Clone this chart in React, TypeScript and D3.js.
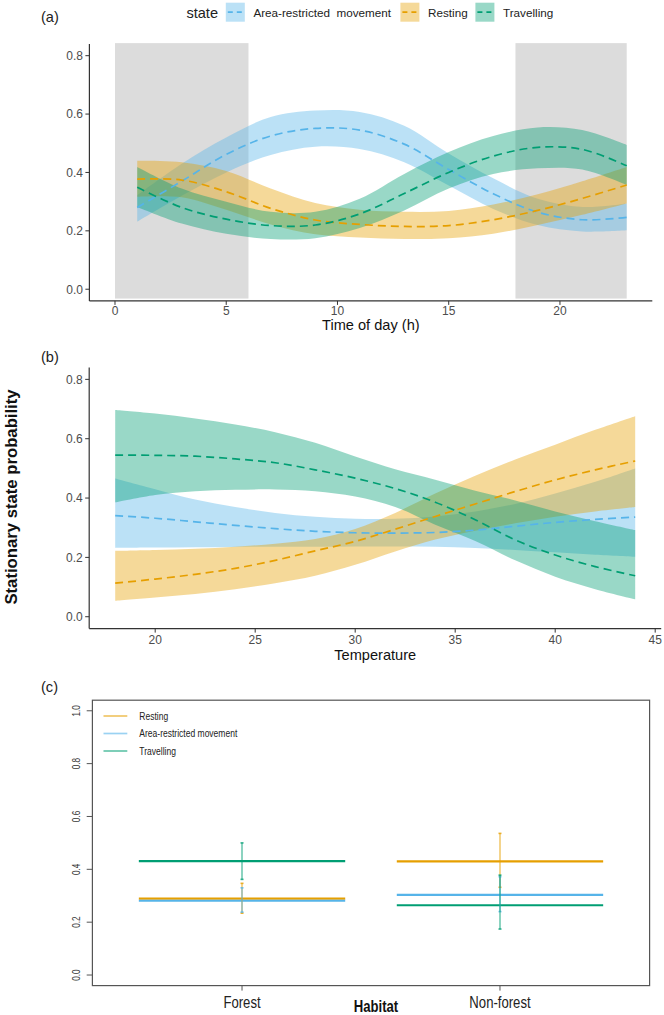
import * as d3 from 'd3';
import * as React from 'react';

const FONT = "'Liberation Sans', Arial, sans-serif";

const ARM = '#56B4E9';
const REST = '#E69F00';
const TRAV = '#009E73';

// (a) time of day
const hours = [1, 3, 5, 7, 9, 11, 13, 15, 17, 19, 21, 23];
const armDayMean = [0.28, 0.37, 0.462, 0.525, 0.551, 0.545, 0.497, 0.41, 0.327, 0.264, 0.238, 0.246];
const armDayLow = [0.231, 0.32, 0.4, 0.46, 0.488, 0.48, 0.435, 0.355, 0.275, 0.22, 0.198, 0.202];
const armDayHigh = [0.322, 0.43, 0.52, 0.59, 0.612, 0.607, 0.56, 0.465, 0.38, 0.31, 0.282, 0.294];
const restDayMean = [0.377, 0.374, 0.334, 0.277, 0.237, 0.222, 0.215, 0.218, 0.238, 0.27, 0.311, 0.357];
const restDayLow = [0.317, 0.315, 0.272, 0.222, 0.188, 0.177, 0.172, 0.175, 0.19, 0.22, 0.255, 0.294];
const restDayHigh = [0.44, 0.435, 0.405, 0.345, 0.295, 0.272, 0.265, 0.268, 0.29, 0.325, 0.37, 0.419];
const travDayMean = [0.349, 0.28, 0.24, 0.218, 0.22, 0.258, 0.328, 0.4, 0.456, 0.486, 0.479, 0.423];
const travDayLow = [0.282, 0.225, 0.19, 0.172, 0.175, 0.21, 0.27, 0.345, 0.395, 0.414, 0.41, 0.357];
const travDayHigh = [0.419, 0.345, 0.3, 0.265, 0.265, 0.31, 0.395, 0.47, 0.525, 0.554, 0.545, 0.494];
const nightStart = [0, 18];
const nightEnd = [6, 23];
const hourTicks = [0, 5, 10, 15, 20];

// (b) temperature
const temps = [18, 20, 22, 24, 26, 28, 30, 32, 34, 36, 38, 40, 42, 44];
const armTempMean = [0.341, 0.332, 0.32, 0.308, 0.297, 0.288, 0.283, 0.282, 0.284, 0.292, 0.305, 0.318, 0.328, 0.336];
const armTempLow = [0.232, 0.233, 0.234, 0.235, 0.236, 0.236, 0.237, 0.237, 0.236, 0.232, 0.225, 0.217, 0.209, 0.202];
const armTempHigh = [0.466, 0.43, 0.395, 0.37, 0.35, 0.337, 0.33, 0.33, 0.338, 0.355, 0.38, 0.415, 0.455, 0.5];
const restTempMean = [0.113, 0.127, 0.143, 0.163, 0.19, 0.222, 0.254, 0.295, 0.338, 0.38, 0.422, 0.461, 0.495, 0.525];
const restTempLow = [0.054, 0.065, 0.077, 0.093, 0.113, 0.138, 0.175, 0.22, 0.26, 0.29, 0.315, 0.337, 0.355, 0.37];
const restTempHigh = [0.222, 0.225, 0.229, 0.236, 0.246, 0.262, 0.296, 0.35, 0.415, 0.475, 0.53, 0.58, 0.63, 0.676];
const travTempMean = [0.545, 0.544, 0.541, 0.532, 0.519, 0.495, 0.467, 0.432, 0.386, 0.327, 0.259, 0.208, 0.169, 0.138];
const travTempLow = [0.385, 0.41, 0.423, 0.428, 0.429, 0.423, 0.405, 0.37, 0.31, 0.255, 0.19, 0.135, 0.093, 0.059];
const travTempHigh = [0.697, 0.685, 0.668, 0.648, 0.622, 0.586, 0.54, 0.497, 0.462, 0.425, 0.392, 0.355, 0.322, 0.292];
const tempTicks = [20, 25, 30, 35, 40, 45];

// (c) habitat
const habitats = ['Forest', 'Non-forest'];
const restHab = [0.289, 0.43];
const restHabLow = [0.234, 0.332];
const restHabHigh = [0.347, 0.536];
const armHab = [0.281, 0.303];
const armHabLow = [0.238, 0.24];
const armHabHigh = [0.33, 0.372];
const travHab = [0.431, 0.264];
const travHabLow = [0.362, 0.174];
const travHabHigh = [0.5, 0.378];

const probTicks = [0, 0.2, 0.4, 0.6, 0.8];
const probTicksC = [0, 0.2, 0.4, 0.6, 0.8, 1.0];

const legendA = [
  { label: 'Area-restricted  movement', color: ARM },
  { label: 'Resting', color: REST },
  { label: 'Travelling', color: TRAV },
];

// base-R panel uses a condensed face; squeeze Liberation Sans horizontally
const NText = ({ x, y, size, anchor = 'start', weight = 'normal', fill = '#222', rotate = 0, children }) => (
  <text
    transform={`translate(${x},${y}) rotate(${rotate}) scale(0.82,1)`}
    textAnchor={anchor}
    fontSize={size}
    fontWeight={weight}
    fill={fill}
    fontFamily={FONT}
  >
    {children}
  </text>
);

const RibbonPanel = ({ xScale, yScale, xs, series, xTicks, title, titleY, tickY, nights }) => {
  const [x0, x1] = xScale.range();
  const [yb, yt] = yScale.range();
  const fmt = d3.format('.1f');
  const area = d3
    .area()
    .x((d) => xScale(d.x))
    .y0((d) => yScale(d.lo))
    .y1((d) => yScale(d.hi))
    .curve(d3.curveCatmullRom);
  const line = d3
    .line()
    .x((d) => xScale(d.x))
    .y((d) => yScale(d.m))
    .curve(d3.curveCatmullRom);
  const rows = series.map((s) => xs.map((x, i) => ({ x, m: s.mean[i], lo: s.lo[i], hi: s.hi[i] })));
  return (
    <g>
      {nights &&
        nights.start.map((s, i) => (
          <rect
            key={i}
            x={xScale(s)}
            y={yScale(0.843)}
            width={xScale(nights.end[i]) - xScale(s)}
            height={yScale(-0.032) - yScale(0.843)}
            fill="#dcdcdc"
          />
        ))}
      {series.map((s, i) => (
        <path key={'r' + i} d={area(rows[i])} fill={s.color} fillOpacity={0.4} />
      ))}
      {series.map((s, i) => (
        <path key={'l' + i} d={line(rows[i])} fill="none" stroke={s.color} strokeWidth={1.7} strokeDasharray="8 5" />
      ))}
      <line x1={x0} x2={x0} y1={yt} y2={yb} stroke="#333" strokeWidth={1.2} />
      <line x1={x0} x2={x1} y1={yb} y2={yb} stroke="#333" strokeWidth={1.2} />
      {probTicks.map((t) => (
        <g key={'y' + t}>
          <line x1={x0 - 4} x2={x0} y1={yScale(t)} y2={yScale(t)} stroke="#333" strokeWidth={1} />
          <text x={x0 - 6.5} y={yScale(t) + 4.3} textAnchor="end" fontSize={12} fill="#4d4d4d" fontFamily={FONT}>
            {fmt(t)}
          </text>
        </g>
      ))}
      {xTicks.map((t) => (
        <g key={'x' + t}>
          <line x1={xScale(t)} x2={xScale(t)} y1={yb} y2={yb + 4} stroke="#333" strokeWidth={1} />
          <text x={xScale(t)} y={tickY} textAnchor="middle" fontSize={12} fill="#4d4d4d" fontFamily={FONT}>
            {t}
          </text>
        </g>
      ))}
      <text x={(x0 + x1) / 2} y={titleY} textAnchor="middle" fontSize={14.6} fill="#111" fontFamily={FONT}>
        {title}
      </text>
    </g>
  );
};

const App = () => {
  const xA = d3.scaleLinear().domain([-1.15, 24.15]).range([89.4, 652.3]);
  const yA = d3.scaleLinear().domain([-0.04, 0.84]).range([300.9, 44]);
  const xB = d3.scaleLinear().domain([16.7, 45.3]).range([89.2, 661.2]);
  const yB = d3.scaleLinear().domain([-0.04, 0.84]).range([628.6, 367.5]);
  const xC = d3.scaleLinear().domain([0.42, 2.58]).range([92.4, 649.6]);
  const yC = d3.scaleLinear().domain([-0.04, 1.04]).range([985.6, 700.2]);

  const daySeries = [
    { color: ARM, mean: armDayMean, lo: armDayLow, hi: armDayHigh },
    { color: REST, mean: restDayMean, lo: restDayLow, hi: restDayHigh },
    { color: TRAV, mean: travDayMean, lo: travDayLow, hi: travDayHigh },
  ];
  const tempSeries = [
    { color: ARM, mean: armTempMean, lo: armTempLow, hi: armTempHigh },
    { color: REST, mean: restTempMean, lo: restTempLow, hi: restTempHigh },
    { color: TRAV, mean: travTempMean, lo: travTempLow, hi: travTempHigh },
  ];
  const habSeries = [
    { label: 'Resting', color: REST, v: restHab, lo: restHabLow, hi: restHabHigh },
    { label: 'Area-restricted movement', color: ARM, v: armHab, lo: armHabLow, hi: armHabHigh },
    { label: 'Travelling', color: TRAV, v: travHab, lo: travHabLow, hi: travHabHigh },
  ];

  // legend key positions for (a)
  const keyX = [225.8, 400.4, 475.4];

  const [cx0, cx1] = xC.range();
  const [cyb, cyt] = yC.range();
  const fmt = d3.format('.1f');

  return (
    <svg
      width={664}
      height={1015}
      style={{ position: 'absolute', left: 0, top: 0, background: '#fff' }}
      fontFamily={FONT}
    >
      <rect x={0} y={0} width={664} height={1015} fill="#fff" />

      {/* (a) */}
      <text x={41} y={21.5} fontSize={14.6} fill="#222">(a)</text>
      <text x={186.4} y={18} fontSize={14.6} fill="#222">state</text>
      {legendA.map((d, i) => (
        <g key={d.label}>
          <rect x={keyX[i]} y={2.7} width={19} height={19} fill={d.color} fillOpacity={0.4} />
          <line
            x1={keyX[i]}
            x2={keyX[i] + 19}
            y1={12.2}
            y2={12.2}
            stroke={d.color}
            strokeWidth={1.7}
            strokeDasharray="5 4"
            strokeDashoffset={-2}
          />
          <text x={keyX[i] + 27.6} y={16.6} fontSize={11.7} fill="#222" style={{ whiteSpace: 'pre' }}>
            {d.label}
          </text>
        </g>
      ))}
      <RibbonPanel
        xScale={xA}
        yScale={yA}
        xs={hours}
        series={daySeries}
        xTicks={hourTicks}
        title="Time of day (h)"
        titleY={330}
        tickY={315.2}
        nights={{ start: nightStart, end: nightEnd }}
      />

      {/* (b) */}
      <text x={41} y={362} fontSize={14.6} fill="#222">(b)</text>
      <RibbonPanel
        xScale={xB}
        yScale={yB}
        xs={temps}
        series={tempSeries}
        xTicks={tempTicks}
        title="Temperature"
        titleY={660}
        tickY={644}
        nights={null}
      />
      <text
        transform="translate(17,497) rotate(-90)"
        textAnchor="middle"
        fontSize={16.7}
        fontWeight="bold"
        fill="#111"
      >
        Stationary state probability
      </text>

      {/* (c) */}
      <text x={41} y={692} fontSize={14.6} fill="#222">(c)</text>
      <rect x={cx0} y={cyt} width={cx1 - cx0} height={cyb - cyt} fill="none" stroke="#555" strokeWidth={1.2} />
      {probTicksC.map((t) => (
        <g key={'cy' + t}>
          <line x1={cx0 - 5.7} x2={cx0} y1={yC(t)} y2={yC(t)} stroke="#555" strokeWidth={1} />
          <NText x={cx0 - 12} y={yC(t)} size={10} anchor="middle" rotate={-90} fill="#333">
            {fmt(t)}
          </NText>
        </g>
      ))}
      {habitats.map((h, i) => (
        <g key={h}>
          <line x1={xC(i + 1)} x2={xC(i + 1)} y1={cyb} y2={cyb + 5} stroke="#555" strokeWidth={1} />
          <NText x={xC(i + 1)} y={1008} size={16} anchor="middle">
            {h}
          </NText>
        </g>
      ))}
      <NText x={376} y={1012} size={16} anchor="middle" weight="bold" fill="#111">
        Habitat
      </NText>
      {habSeries.map((s) =>
        habitats.map((h, i) => (
          <line
            key={s.label + h + 'seg'}
            x1={xC(i + 1 - 0.4)}
            x2={xC(i + 1 + 0.4)}
            y1={yC(s.v[i])}
            y2={yC(s.v[i])}
            stroke={s.color}
            strokeWidth={2.2}
          />
        ))
      )}
      {habSeries.map((s) =>
        habitats.map((h, i) => (
          <g key={s.label + h + 'err'}>
            <line
              x1={xC(i + 1)}
              x2={xC(i + 1)}
              y1={yC(s.lo[i])}
              y2={yC(s.hi[i])}
              stroke={s.color}
              strokeOpacity={0.45}
              strokeWidth={2}
            />
            <line x1={xC(i + 1) - 1.5} x2={xC(i + 1) + 1.5} y1={yC(s.lo[i])} y2={yC(s.lo[i])} stroke={s.color} strokeWidth={1.6} strokeOpacity={0.8} />
            <line x1={xC(i + 1) - 1.5} x2={xC(i + 1) + 1.5} y1={yC(s.hi[i])} y2={yC(s.hi[i])} stroke={s.color} strokeWidth={1.6} strokeOpacity={0.8} />
          </g>
        ))
      )}
      {habSeries.map((s, i) => (
        <g key={s.label + 'leg'}>
          <line x1={103.5} x2={127.3} y1={716 + i * 17.5} y2={716 + i * 17.5} stroke={s.color} strokeOpacity={0.6} strokeWidth={1.7} />
          <NText x={139.3} y={719.6 + i * 17.5} size={10.4}>
            {s.label}
          </NText>
        </g>
      ))}
    </svg>
  );
};

export default App;
